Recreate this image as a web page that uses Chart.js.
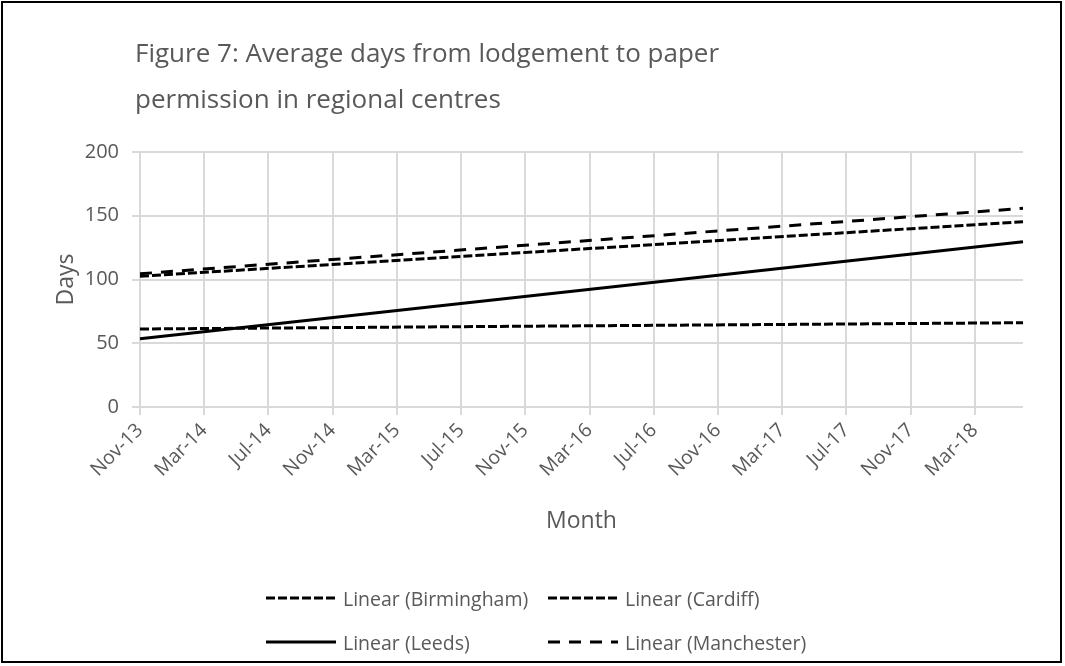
<!DOCTYPE html>
<html>
<head>
<meta charset="utf-8">
<script src="https://cdn.jsdelivr.net/npm/chart.js@4"></script>
<style>
  html, body { margin: 0; padding: 0; background: #fff; }
  #wrap { position: relative; width: 1065px; height: 666px; overflow: hidden; }
  #frame { position: absolute; left: 1px; top: 1px; width: 1061px; height: 662px; border: 2px solid #000; box-sizing: border-box; pointer-events: none; }
  #title { position: absolute; left: 135px; top: 29px; font-family: "Open Sans", sans-serif; font-size: 26px; line-height: 46px; color: #595959; white-space: nowrap; }
  #legend { position: absolute; left: 266px; top: 576px; display: grid; grid-template-columns: 282px 282px; grid-auto-rows: 44px; font-family: "Open Sans", sans-serif; font-size: 19.5px; color: #595959; }
  #legend .item { display: flex; align-items: center; white-space: nowrap; }
  #legend svg { margin-right: 7px; flex: none; }
  canvas { position: absolute; left: 0; top: 0; }
</style>
</head>
<body>
<div id="wrap">
  <canvas id="chart" width="1065" height="666"></canvas>
  <div id="title">Figure 7: Average days from lodgement to paper<br>permission in regional centres</div>
  <div id="legend"></div>
  <div id="frame"></div>
</div>
<script>
// months Nov-13 .. Jun-18
const months = [
  'Nov-13','Dec-13','Jan-14','Feb-14','Mar-14','Apr-14','May-14','Jun-14','Jul-14','Aug-14','Sep-14','Oct-14',
  'Nov-14','Dec-14','Jan-15','Feb-15','Mar-15','Apr-15','May-15','Jun-15','Jul-15','Aug-15','Sep-15','Oct-15',
  'Nov-15','Dec-15','Jan-16','Feb-16','Mar-16','Apr-16','May-16','Jun-16','Jul-16','Aug-16','Sep-16','Oct-16',
  'Nov-16','Dec-16','Jan-17','Feb-17','Mar-17','Apr-17','May-17','Jun-17','Jul-17','Aug-17','Sep-17','Oct-17',
  'Nov-17','Dec-17','Jan-18','Feb-18','Mar-18','Apr-18','May-18','Jun-18'
];

// trendline end values (first month, last month)
const birmingham = [102.5, 145.3];
const cardiff    = [61.2, 66.1];
const leeds      = [53.5, 129.6];
const manchester = [104.5, 155.8];

const yTicks = [0, 50, 100, 150, 200];

// put the two end values on the first and last month, gaps between
function trend(ends) {
  const arr = months.map(() => null);
  arr[0] = ends[0];
  arr[months.length - 1] = ends[1];
  return arr;
}

const series = [
  { label: 'Linear (Birmingham)', ends: birmingham, dash: [9, 3] },
  { label: 'Linear (Cardiff)',    ends: cardiff,    dash: [9, 3] },
  { label: 'Linear (Leeds)',      ends: leeds,      dash: [] },
  { label: 'Linear (Manchester)', ends: manchester, dash: [12, 9] }
];

const textColor = '#595959';
const gridColor = '#d9d9d9';

new Chart(document.getElementById('chart'), {
  type: 'line',
  data: {
    labels: months,
    datasets: series.map(s => ({
      label: s.label,
      data: trend(s.ends),
      borderColor: '#000',
      borderWidth: 3,
      borderDash: s.dash,
      pointRadius: 0,
      spanGaps: true,
      fill: false,
      tension: 0
    }))
  },
  options: {
    responsive: false,
    animation: false,
    layout: { padding: { left: 40, right: 42, top: 152, bottom: 131 } },
    plugins: { legend: { display: false }, title: { display: false }, tooltip: { enabled: false } },
    scales: {
      x: {
        offset: false,
        border: { display: false },
        grid: { color: gridColor, lineWidth: 2, tickLength: 8 },
        ticks: {
          autoSkip: false, minRotation: 45, maxRotation: 45, padding: 4,
          color: textColor, font: { family: 'Open Sans', size: 19.5 },
          callback: function (v, i) { return i % 4 === 0 ? this.getLabelForValue(v) : null; }
        },
        title: { display: true, text: 'Month', color: textColor, font: { family: 'Open Sans', size: 23 }, padding: { top: 0, bottom: 0 } },
        afterFit: s => { s.height = 128; }
      },
      y: {
        min: 0, max: 200,
        border: { display: false },
        grid: { color: gridColor, lineWidth: 2, tickLength: 8 },
        afterBuildTicks: s => { s.ticks = yTicks.map(v => ({ value: v })); },
        ticks: { padding: 13, color: textColor, font: { family: 'Open Sans', size: 20 } },
        title: { display: true, text: 'Days', color: textColor, font: { family: 'Open Sans', size: 23 }, padding: { top: 13, bottom: 0 } },
        afterFit: s => { s.width = 100; }
      }
    }
  }
});

// legend in two columns like the original
const legend = document.getElementById('legend');
series.forEach(s => {
  const item = document.createElement('div');
  item.className = 'item';
  item.innerHTML = '<svg width="70" height="6"><line x1="0" y1="3" x2="70" y2="3" stroke="#000" stroke-width="3"' +
    (s.dash.length ? ' stroke-dasharray="' + s.dash.join(',') + '"' : '') + '/></svg><span>' + s.label + '</span>';
  legend.appendChild(item);
});
</script>
</body>
</html>
